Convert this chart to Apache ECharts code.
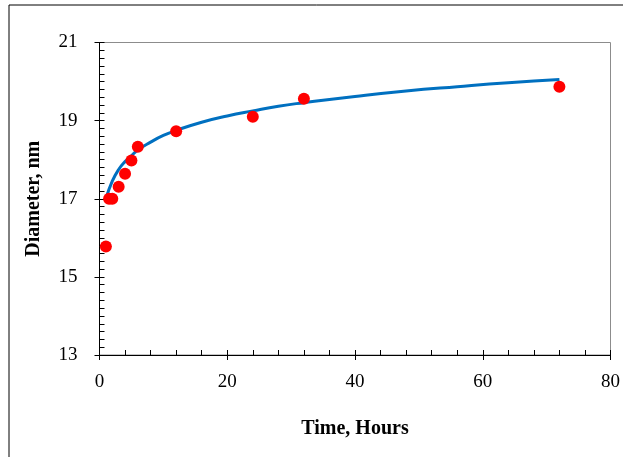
<!DOCTYPE html>
<html>
<head>
<meta charset="utf-8">
<script src="https://cdn.jsdelivr.net/npm/echarts@6/dist/echarts.min.js"></script>
<style>
  html, body { margin: 0; padding: 0; background: #fff; }
  #chart { width: 623px; height: 457px; }
</style>
</head>
<body>
<div id="chart"></div>
<script>
// measured diameters
let timeHours = [1, 1.5, 2, 3, 4, 5, 6, 12, 24, 32, 72];
let diameterNm = [15.78, 17.0, 17.0, 17.31, 17.64, 17.98, 18.33, 18.73, 19.1, 19.56, 19.87];

// trend curve
let trendX = [1, 2, 3, 4, 5, 6, 8, 10, 12, 16, 20, 24, 28, 32, 40, 48, 56, 64, 72];
let trendY = [17.0, 17.45, 17.75, 17.95, 18.1, 18.25, 18.45, 18.62, 18.75, 18.96, 19.12, 19.25, 19.37, 19.46, 19.62, 19.76, 19.87, 19.97, 20.05];

let xTicks = [0, 20, 40, 60, 80];
let yTicks = [13, 15, 17, 19, 21];

let font = "'Liberation Serif', 'Times New Roman', serif";

let pair = (xs, ys) => xs.map((x, i) => [x, ys[i]]);

let chart = echarts.init(document.getElementById('chart'), null, { renderer: 'canvas' });

let axisBase = {
    type: 'value',
    axisLine: { show: true, lineStyle: { color: '#000', width: 1 } },
    splitLine: { show: false },
};

chart.setOption({
    backgroundColor: '#fff',
    animation: false,
    grid: {
        left: 99.5, top: 42.5, right: 12, bottom: 102,
        show: true, borderColor: '#8c8c8c', borderWidth: 1, backgroundColor: 'transparent'
    },
    graphic: [{
        type: 'rect',
        shape: { x: 9, y: 5, width: 700, height: 600 },
        style: { fill: 'none', stroke: '#000', lineWidth: 1 },
        silent: true
    }],
    xAxis: [
        Object.assign({}, axisBase, {
            min: xTicks[0], max: xTicks[xTicks.length - 1], interval: 20,
            name: 'Time, Hours', nameLocation: 'middle', nameGap: 64,
            nameTextStyle: { fontFamily: font, fontSize: 20, fontWeight: 'bold', color: '#000' },
            axisTick: { show: true, inside: true, length: 5, lineStyle: { color: '#000' } },
            minorTick: { show: true, splitNumber: 5, length: 5, lineStyle: { color: '#000' } },
            axisLabel: { fontFamily: font, fontSize: 19, color: '#000', margin: 18 }
        }),
        Object.assign({}, axisBase, {
            min: xTicks[0], max: xTicks[xTicks.length - 1], interval: 20,
            position: 'bottom',
            axisTick: { show: true, inside: false, length: 5, lineStyle: { color: '#000' } },
            axisLabel: { show: false }
        })
    ],
    yAxis: [
        Object.assign({}, axisBase, {
            min: yTicks[0], max: yTicks[yTicks.length - 1], interval: 2,
            position: 'left',
            name: 'Diameter, nm', nameLocation: 'middle', nameGap: 56, nameRotate: 90,
            nameTextStyle: { fontFamily: font, fontSize: 20, fontWeight: 'bold', color: '#000' },
            axisTick: { show: true, inside: true, length: 5, lineStyle: { color: '#000' } },
            minorTick: { show: true, splitNumber: 10, length: 5, lineStyle: { color: '#000' } },
            axisLabel: { fontFamily: font, fontSize: 19, color: '#000', margin: 22 }
        }),
        Object.assign({}, axisBase, {
            min: yTicks[0], max: yTicks[yTicks.length - 1], interval: 2,
            position: 'left', offset: 0,
            axisTick: { show: true, inside: false, length: 5, lineStyle: { color: '#000' } },
            axisLabel: { show: false }
        })
    ],
    series: [
        {
            type: 'line',
            data: pair(trendX, trendY),
            smooth: true,
            showSymbol: false,
            lineStyle: { color: '#0070C0', width: 3 },
            z: 2
        },
        {
            type: 'scatter',
            data: pair(timeHours, diameterNm),
            symbol: 'circle',
            symbolSize: 12,
            itemStyle: { color: '#FF0000', opacity: 1 },
            z: 3
        }
    ]
});
</script>
</body>
</html>
